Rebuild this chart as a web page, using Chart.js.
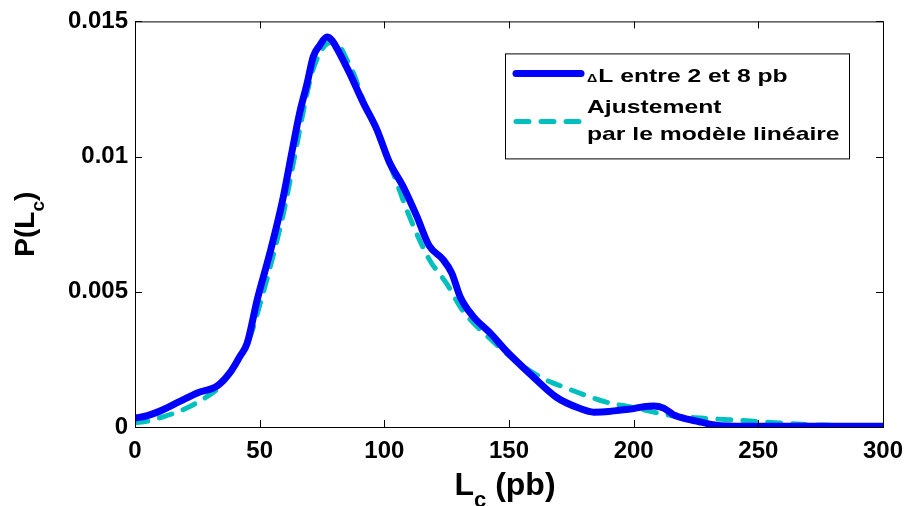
<!DOCTYPE html>
<html>
<head>
<meta charset="utf-8">
<script src="https://cdn.jsdelivr.net/npm/chart.js@4/dist/chart.umd.min.js"></script>
<style>
  html, body { margin: 0; padding: 0; background: #fff; }
  #wrap { width: 907px; height: 506px; position: relative; }
</style>
</head>
<body>
<div id="wrap"><canvas id="chart"></canvas></div>
<script>
// measured distribution, ΔL between 2 and 8 bp
const lcMeasured = [0, 5, 11, 18, 25, 33, 38, 42, 45, 49, 54, 59, 63, 66, 69, 71.5, 74, 77, 79, 81,
  86, 91.5, 97, 102, 107.5, 113, 118, 123.5, 127, 130.5, 135.5, 142.5, 149, 158, 169, 178, 184, 190,
  195, 200, 204, 208, 212, 216, 222, 227, 235, 250, 270, 300];
const pMeasured = [0.00033, 0.00042, 0.00063, 0.00095, 0.00126, 0.00152, 0.0020, 0.0026, 0.0031, 0.0047,
  0.0064, 0.0083, 0.0102, 0.0116, 0.0127, 0.0137, 0.0141, 0.01442, 0.0143, 0.0140,
  0.0131, 0.0120, 0.0110, 0.0098, 0.0089, 0.0078, 0.0067, 0.0062, 0.0057, 0.0048,
  0.0041, 0.00347, 0.0028, 0.0020, 0.0011, 0.0007, 0.00055, 0.00057, 0.00063, 0.00068,
  0.00075, 0.00078, 0.0007, 0.00045, 0.00028, 0.00018, 0.00005, 0.00003, 0.00003, 0.00003];

// linear model fit
const lcFit = [0, 5, 11, 19, 28.5, 34, 38, 42, 46, 50, 55, 60, 64, 68, 71, 74, 77, 79.5, 82, 84.5,
  88, 91.5, 96, 103.5, 110, 118, 125, 131.5, 142, 152, 162.5, 173, 189, 200, 208, 217, 227, 247, 258, 276, 300];
const pFit = [0.00015, 0.00022, 0.00037, 0.00063, 0.0011, 0.0015, 0.0020, 0.0026, 0.0033, 0.0045,
  0.0062, 0.0081, 0.0100, 0.0119, 0.0131, 0.0138, 0.01418, 0.01423, 0.0141, 0.01367,
  0.0130, 0.0121, 0.0112, 0.0094, 0.0078, 0.0062, 0.0053, 0.0043, 0.0033, 0.0025,
  0.00185, 0.00144, 0.00092, 0.00072, 0.00055, 0.0004, 0.00033, 0.00022, 0.00015, 0.00007, 0.00005];

const xTicks = [0, 50, 100, 150, 200, 250, 300];
const yTicks = [0, 0.005, 0.01, 0.015];
const legendLabels = ["L entre 2 et 8 pb", "Ajustement", "par le modèle linéaire"];

const FONT = "'Liberation Sans', Arial, sans-serif";
const pts = (xs, ys) => xs.map((x, i) => ({ x, y: ys[i] }));

// draw text stretched horizontally like the original export
function wideText(ctx, txt, x, y, sx) {
  ctx.save();
  ctx.translate(x, y);
  ctx.scale(sx, 1);
  ctx.fillText(txt, 0, 0);
  ctx.restore();
  return ctx.measureText(txt).width * sx;
}

// matlab-style frame with inward ticks, axis titles and legend box
const decor = {
  id: "decor",
  afterDraw(chart) {
    const { ctx, chartArea: a, scales } = chart;
    const tl = 7;
    ctx.save();
    ctx.strokeStyle = "#000";
    ctx.lineWidth = 1;
    ctx.strokeRect(a.left + 0.5, a.top + 0.5, a.right - a.left, a.bottom - a.top);
    ctx.beginPath();
    for (const v of xTicks) {
      const px = Math.round(scales.x.getPixelForValue(v)) + 0.5;
      ctx.moveTo(px, a.bottom); ctx.lineTo(px, a.bottom - tl);
      ctx.moveTo(px, a.top); ctx.lineTo(px, a.top + tl);
    }
    for (const v of yTicks) {
      const py = Math.round(scales.y.getPixelForValue(v)) + 0.5;
      ctx.moveTo(a.left, py); ctx.lineTo(a.left + tl, py);
      ctx.moveTo(a.right, py); ctx.lineTo(a.right - tl, py);
    }
    ctx.stroke();

    // x title: L_c (pb)
    ctx.fillStyle = "#000";
    ctx.textBaseline = "alphabetic";
    ctx.textAlign = "left";
    ctx.font = "bold 32px " + FONT;
    const cx = (a.left + a.right) / 2;
    const wL = ctx.measureText("L").width;
    ctx.font = "bold 22px " + FONT;
    const wc = ctx.measureText("c").width;
    ctx.font = "bold 32px " + FONT;
    const wP = ctx.measureText(" (pb)").width;
    let x0 = cx - (wL + wc + wP) / 2 - 4;
    const by = 495;
    ctx.fillText("L", x0, by);
    ctx.font = "bold 22px " + FONT;
    ctx.fillText("c", x0 + wL, by + 12);
    ctx.font = "bold 32px " + FONT;
    ctx.fillText(" (pb)", x0 + wL + wc, by);

    // y title: P(L_c)
    ctx.save();
    ctx.translate(34, (a.top + a.bottom) / 2);
    ctx.rotate(-Math.PI / 2);
    ctx.font = "bold 28px " + FONT;
    const w1 = ctx.measureText("P(L").width;
    ctx.font = "bold 19px " + FONT;
    const w2 = ctx.measureText("c").width;
    ctx.font = "bold 28px " + FONT;
    const w3 = ctx.measureText(")").width;
    let y0 = -(w1 + w2 + w3) / 2;
    ctx.fillText("P(L", y0, 0);
    ctx.font = "bold 19px " + FONT;
    ctx.fillText("c", y0 + w1, 10);
    ctx.font = "bold 28px " + FONT;
    ctx.fillText(")", y0 + w1 + w2, 0);
    ctx.restore();

    // legend
    const ds = chart.data.datasets;
    const bx = a.right - 378, bw = 344, byTop = a.top + 32, bh = 105;
    ctx.fillStyle = "#fff";
    ctx.fillRect(bx, byTop, bw, bh);
    ctx.strokeStyle = "#000";
    ctx.lineWidth = 1;
    ctx.strokeRect(bx + 0.5, byTop + 0.5, bw, bh);
    ctx.lineCap = "round";
    ctx.strokeStyle = ds[0].borderColor;
    ctx.lineWidth = ds[0].borderWidth;
    ctx.beginPath(); ctx.moveTo(bx + 11, byTop + 20); ctx.lineTo(bx + 76, byTop + 20); ctx.stroke();
    ctx.strokeStyle = ds[1].borderColor;
    ctx.lineWidth = ds[1].borderWidth;
    ctx.setLineDash(ds[1].borderDash);
    ctx.beginPath(); ctx.moveTo(bx + 11, byTop + 68); ctx.lineTo(bx + 78, byTop + 68); ctx.stroke();
    ctx.setLineDash([]);
    ctx.fillStyle = "#000";
    const tx = bx + 82;
    const sx = 1.3;
    ctx.font = "bold 11px " + FONT;
    const wd = wideText(ctx, "Δ", tx, byTop + 29, sx);
    ctx.font = "bold 19px " + FONT;
    wideText(ctx, legendLabels[0], tx + wd + 1, byTop + 29, sx);
    wideText(ctx, legendLabels[1], tx, byTop + 60, sx);
    wideText(ctx, legendLabels[2], tx, byTop + 87, sx);
    ctx.restore();
  }
};

new Chart(document.getElementById("chart"), {
  type: "line",
  data: {
    datasets: [
      {
        label: "ΔL entre 2 et 8 pb",
        data: pts(lcMeasured, pMeasured),
        borderColor: "#0000ff",
        borderWidth: 7,
        pointRadius: 0,
        cubicInterpolationMode: "monotone",
        borderCapStyle: "round",
        borderJoinStyle: "round",
      },
      {
        label: "Ajustement par le modèle linéaire",
        data: pts(lcFit, pFit),
        borderColor: "#00bfbf",
        borderWidth: 5,
        borderDash: [13, 12],
        borderCapStyle: "round",
        pointRadius: 0,
        cubicInterpolationMode: "monotone",
      },
    ],
  },
  options: {
    responsive: true,
    maintainAspectRatio: false,
    animation: false,
    layout: { padding: { top: 21, right: 24, left: 0, bottom: 0 } },
    plugins: { legend: { display: false }, tooltip: { enabled: false } },
    scales: {
      x: {
        type: "linear",
        min: 0, max: 300,
        afterBuildTicks: s => { s.ticks = xTicks.map(v => ({ value: v })); },
        afterFit: s => { s.height = 79; s.paddingLeft = 0; s.paddingRight = 0; },
        grid: { display: false, drawTicks: false },
        border: { display: false },
        ticks: { color: "#000", font: { family: FONT, size: 24, weight: "bold" }, padding: 10, maxRotation: 0 },
      },
      y: {
        type: "linear",
        min: 0, max: 0.015,
        afterBuildTicks: s => { s.ticks = yTicks.map(v => ({ value: v })); },
        afterFit: s => { s.width = 135; },
        grid: { display: false, drawTicks: false },
        border: { display: false },
        ticks: {
          color: "#000", font: { family: FONT, size: 24, weight: "bold" }, padding: 7,
          callback: v => String(+v.toFixed(3)),
        },
      },
    },
  },
  plugins: [decor],
});
</script>
</body>
</html>
